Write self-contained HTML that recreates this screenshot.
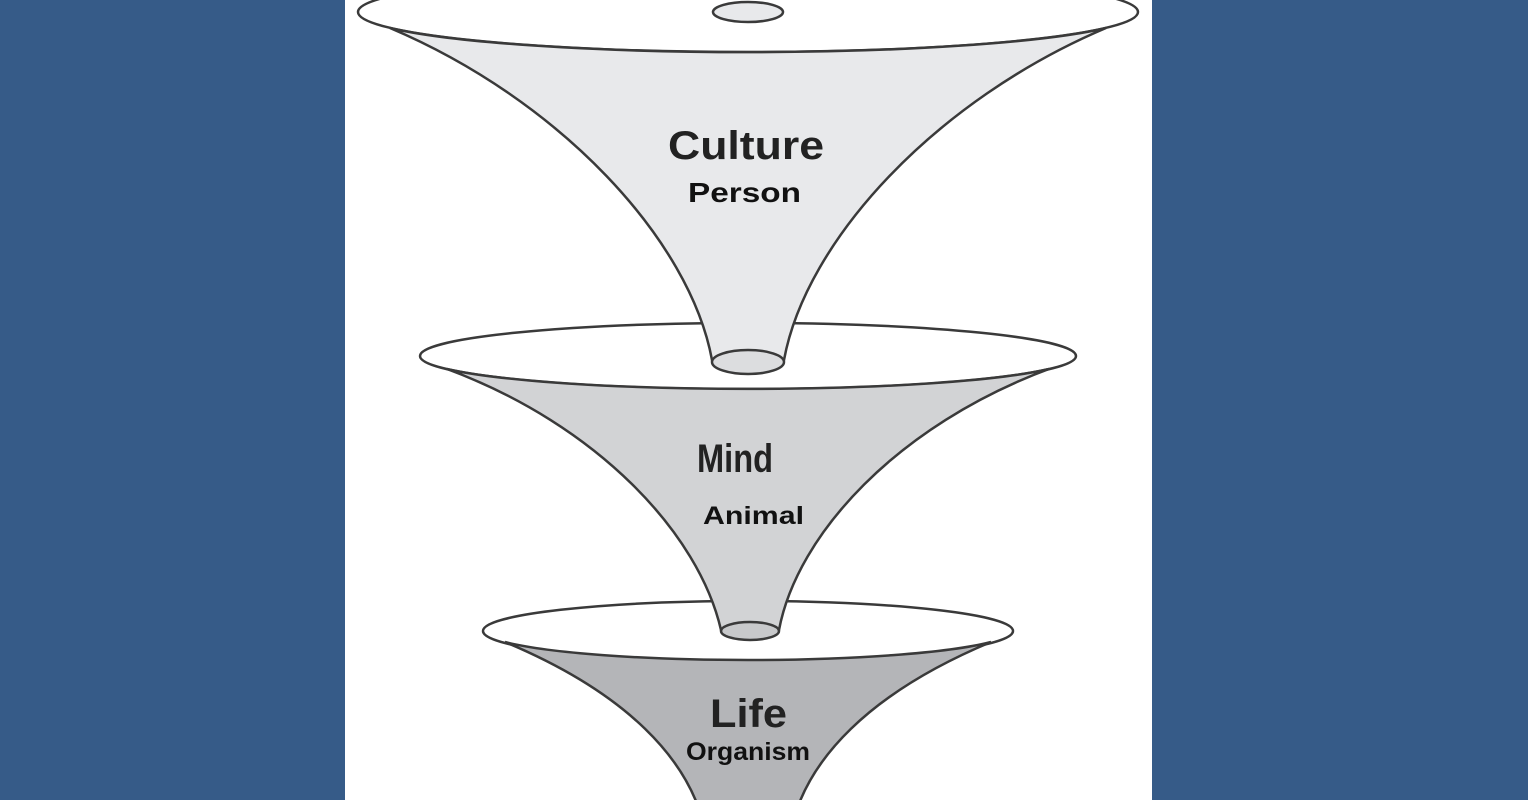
<!DOCTYPE html>
<html><head><style>
html,body{margin:0;padding:0;width:1528px;height:800px;overflow:hidden;background:#365b88;}
svg{display:block}
</style></head><body>
<svg width="1528" height="800" xmlns="http://www.w3.org/2000/svg">
<rect x="0" y="0" width="1528" height="800" fill="#365b88"/>
<rect x="345" y="0" width="807" height="800" fill="#ffffff"/>
<g stroke="#3a3a3a" stroke-width="2.5" fill="none">
<!-- funnel 3 -->
<ellipse cx="748" cy="631" rx="265" ry="30" fill="#fff"/>
<path d="M505,642 A265 30 0 0 0 991,642 C869,693 806,760 791,830 L705,830 C690,760 627,693 505,642 Z" fill="#b4b5b8"/>
<!-- funnel 2 -->
<ellipse cx="748" cy="356" rx="328" ry="33" fill="#fff"/>
<path d="M447,369 A328 33 0 0 0 1049,369 C898,425 797,534 779,630 A30 9 0 0 1 721,630 C699,534 598,425 447,369 Z" fill="#d2d3d5"/>
<ellipse cx="750" cy="631" rx="29" ry="9" fill="#c8c9cb"/>
<!-- funnel 1 -->
<ellipse cx="748" cy="12" rx="390" ry="40" fill="#fff"/>
<path d="M390,28 A390 40 0 0 0 1106,28 C936,100 806,240 784,360 A36 12 0 0 1 712,360 C690,240 560,100 390,28 Z" fill="#e8e9eb"/>
<ellipse cx="748" cy="362" rx="36" ry="12" fill="#dcdddf"/>
<ellipse cx="748" cy="12" rx="35" ry="10" fill="#e8e9eb"/>
</g>
<g font-family="Liberation Sans, Arial, sans-serif" font-weight="bold" fill="#222">
<text x="668" y="159" font-size="40" textLength="156" lengthAdjust="spacingAndGlyphs">Culture</text>
<text x="688" y="202" font-size="28" fill="#111" textLength="113" lengthAdjust="spacingAndGlyphs">Person</text>
<text x="697" y="472" font-size="40" textLength="76" lengthAdjust="spacingAndGlyphs">Mind</text>
<text x="703" y="524" font-size="25" fill="#111" textLength="101" lengthAdjust="spacingAndGlyphs">Animal</text>
<text x="710" y="727" font-size="40" textLength="77" lengthAdjust="spacingAndGlyphs">Life</text>
<text x="686" y="760" font-size="25" fill="#111" textLength="124" lengthAdjust="spacingAndGlyphs">Organism</text>
</g>
</svg>
</body></html>
